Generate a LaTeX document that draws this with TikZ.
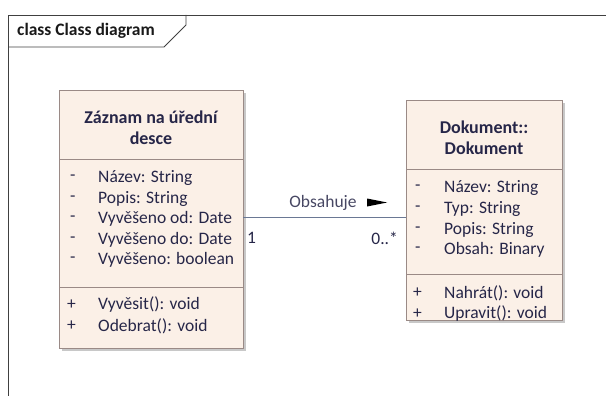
\documentclass[tikz,border=0pt]{standalone}
\usepackage{fontspec}
\setmainfont{Carlito}
\usetikzlibrary{calc}
\definecolor{boxfill}{HTML}{FBF0E7}
\definecolor{boxline}{HTML}{9A8A86}
\definecolor{ink}{HTML}{262648}
\definecolor{assoc}{HTML}{6A7894}
\definecolor{shade}{HTML}{C8C8C8}
\begin{document}
\begin{tikzpicture}[x=1pt,y=-1pt,
  umltext/.style={font=\fontsize{17.5}{20}\selectfont, text=ink, inner sep=0pt},
  umltitle/.style={umltext, font=\fontsize{18}{20}\selectfont\bfseries, align=center},
  vis/.style={umltext, anchor=west},
  member/.style={umltext, anchor=west},
  classbox/.style={draw=boxline, fill=boxfill, line width=0.8pt},
  shadowbox/.style={fill=shade},
  divider/.style={draw=boxline, line width=0.8pt}
]
\useasboundingbox (0,0) rectangle (606,396);

% diagram frame with its name tab
\draw[line width=0.8pt, draw=black!75] (8,396) -- (8,15) -- (606,15);
\draw[line width=0.8pt, draw=black!75] (8,47) -- (164,47) -- (186,25) -- (186,15);
\node[umltext, text=black!90, font=\fontsize{17.5}{20}\selectfont\bfseries, anchor=west] (frametitle) at (17,31) {class Class diagram};

% class: Záznam na úřední desce
\fill[shadowbox] (62,93) rectangle (246,351);
\draw[classbox] (59,90) rectangle (243,348);
\draw[divider] (59,159) -- (243,159);
\draw[divider] (59,287) -- (243,287);
\node[umltitle] (zt1) at (151,117) {Záznam na úřední};
\node[umltitle] (zt2) at (151,138) {desce};
\foreach \y/\t [count=\i] in {178/Název: String, 198.5/Popis: String, 219/Vyvěšeno od: Date, 239.5/Vyvěšeno do: Date, 260/Vyvěšeno: boolean}{
  \node[vis] (zv\i) at (70,\y) {-};
  \node[member] (za\i) at (98,\y) {\t};
}
\node[vis] (zm1v) at (67,305) {+};
\node[member] (zm1) at (98,305) {Vyvěsit(): void};
\node[vis] (zm2v) at (67,326) {+};
\node[member] (zm2) at (98,326) {Odebrat(): void};
\coordinate (zright) at (243,217);

% class: Dokument::Dokument
\fill[shadowbox] (409,103) rectangle (565,323);
\draw[classbox] (406,100) rectangle (562,320);
\draw[divider] (406,169) -- (562,169);
\draw[divider] (406,274) -- (562,274);
\node[umltitle] (dt1) at (484,127) {Dokument::};
\node[umltitle] (dt2) at (484,148) {Dokument};
\foreach \y/\t [count=\i] in {188/Název: String, 209/Typ: String, 230/Popis: String, 250/Obsah: Binary}{
  \node[vis] (dv\i) at (415,\y) {-};
  \node[member] (da\i) at (444,\y) {\t};
}
\node[vis] (dm1v) at (413,293) {+};
\node[member] (dm1) at (444,293) {Nahrát(): void};
\node[vis] (dm2v) at (413,314) {+};
\node[member] (dm2) at (444,314) {Upravit(): void};
\coordinate (dleft) at (406,217);

% association
\draw[assoc, line width=1pt] (zright) -- (dleft);
\node[umltext, text=ink!85] (lbl) at (323,203) {Obsahuje};
\fill[black] (367,198.5) -- (387,202.5) -- (367,206.5) -- cycle;
\node[umltext, anchor=west] (m1) at (247,238) {1};
\node[umltext, anchor=east] (m2) at (398,238) {0..*};
\end{tikzpicture}
\end{document}
